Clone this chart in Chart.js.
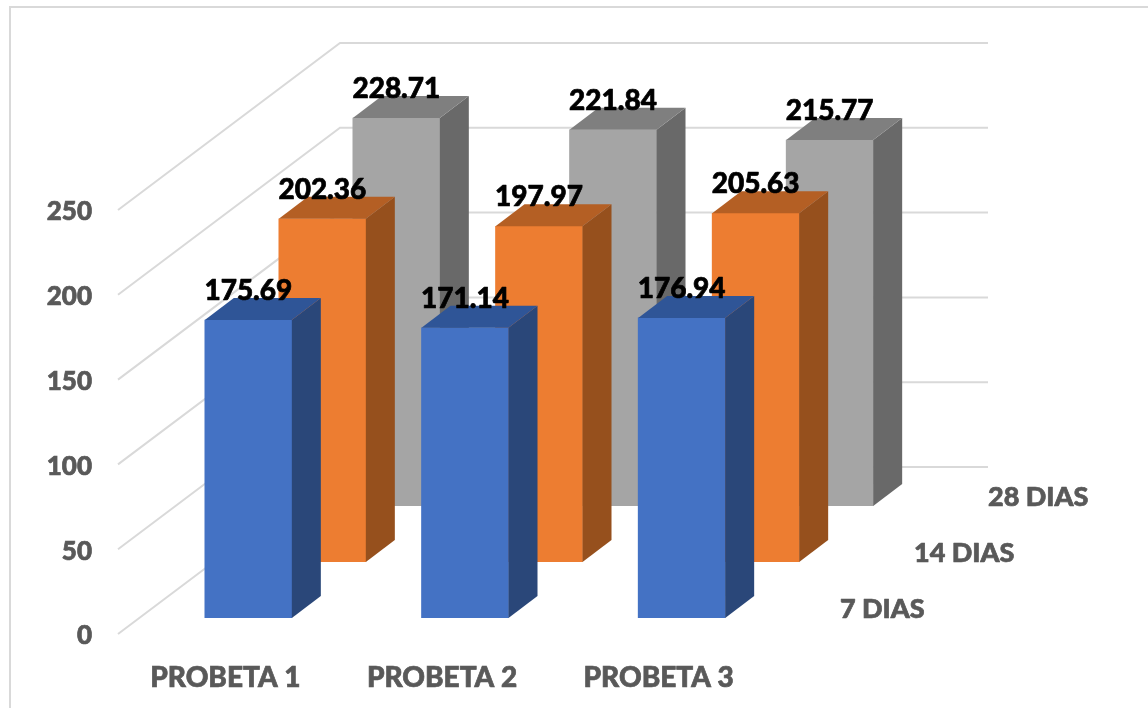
<!DOCTYPE html>
<html>
<head>
<meta charset="utf-8">
<style>
html,body{margin:0;padding:0;background:#fff;overflow:hidden}
canvas{display:block}
</style>
<script src="https://cdn.jsdelivr.net/npm/chart.js@4"></script>
</head>
<body>
<canvas id="c" width="1148" height="708"></canvas>
<script>
const categories = ['PROBETA 1', 'PROBETA 2', 'PROBETA 3'];
const seriesNames = ['7 DIAS', '14 DIAS', '28 DIAS'];
const dias7 = [175.69, 171.14, 176.94];
const dias14 = [202.36, 197.97, 205.63];
const dias28 = [228.71, 221.84, 215.77];
const yTickMax = 250;
const yTickStep = 50;

const FRONT = ['#4472C4', '#ED7D31', '#A5A5A5'];
const SIDE = ['#2A4779', '#96501D', '#696969'];
const TOP = ['#2F5597', '#B45F24', '#7F7F7F'];
const SHIFT_X = [22, 96, 170];
const SHIFT_Y = [-16, -72, -128];
const DEPTH_X = 29, DEPTH_Y = -22;
const WALL_X = 222, WALL_Y = -167, WALL_END = 988;
const GRID = '#D9D9D9';
const TEXT = '#595959';
const FONT_FAMILY = 'Lato, "Open Sans", sans-serif';
const HEAVY = 0.7;

const scene = {
  id: 'scene',
  beforeDraw(chart) {
    const c = chart.ctx;
    c.save();
    c.strokeStyle = GRID; c.lineWidth = 2;
    c.beginPath();
    c.moveTo(10, 708); c.lineTo(10, 7); c.lineTo(1148, 7);
    c.stroke();
    c.restore();
  },
  beforeDatasetsDraw(chart) {
    const c = chart.ctx, y = chart.scales.y, left = chart.chartArea.left;
    c.save();
    c.strokeStyle = GRID; c.lineWidth = 2; c.lineJoin = 'miter';
    y.ticks.forEach(t => {
      const py = y.getPixelForValue(t.value);
      c.beginPath();
      c.moveTo(left, py);
      c.lineTo(left + WALL_X, py + WALL_Y);
      c.lineTo(WALL_END, py + WALL_Y);
      c.stroke();
    });
    c.restore();
  },
  beforeDatasetDraw(chart, args) {
    const c = chart.ctx, i = args.index;
    c.save();
    c.translate(SHIFT_X[i], SHIFT_Y[i]);
  },
  afterDatasetDraw(chart, args) {
    const c = chart.ctx, i = args.index;
    args.meta.data.forEach(el => {
      const p = el.getProps(['x', 'y', 'base', 'width'], true);
      const r = p.x + p.width / 2, l = p.x - p.width / 2;
      c.fillStyle = SIDE[i];
      c.beginPath();
      c.moveTo(r, p.base); c.lineTo(r, p.y);
      c.lineTo(r + DEPTH_X, p.y + DEPTH_Y); c.lineTo(r + DEPTH_X, p.base + DEPTH_Y);
      c.closePath(); c.fill();
      c.fillStyle = TOP[i];
      c.beginPath();
      c.moveTo(l, p.y); c.lineTo(r, p.y);
      c.lineTo(r + DEPTH_X, p.y + DEPTH_Y); c.lineTo(l + DEPTH_X, p.y + DEPTH_Y);
      c.closePath(); c.fill();
    });
    c.restore();
  },
  afterDatasetsDraw(chart) {
    const c = chart.ctx;
    c.save();
    c.textAlign = 'center'; c.textBaseline = 'middle';
    c.fillStyle = '#000'; c.strokeStyle = '#000'; c.lineWidth = HEAVY; c.lineJoin = 'round';
    c.font = '900 28px ' + FONT_FAMILY;
    chart.data.datasets.forEach((ds, i) => {
      chart.getDatasetMeta(i).data.forEach((el, j) => {
        const p = el.getProps(['x', 'y'], true);
        const s = ds.data[j].toFixed(2), tx = p.x + SHIFT_X[i], ty = p.y + SHIFT_Y[i] - 29;
        c.fillText(s, tx, ty);
        c.strokeText(s, tx, ty);
      });
    });
    c.textAlign = 'left';
    c.fillStyle = TEXT; c.strokeStyle = TEXT;
    c.font = '900 27px ' + FONT_FAMILY;
    seriesNames.forEach((n, i) => {
      const tx = 818 + SHIFT_X[i], ty = 625 + SHIFT_Y[i];
      c.fillText(n, tx, ty);
      c.strokeText(n, tx, ty);
    });
    c.restore();
  }
};

new Chart(document.getElementById('c'), {
  type: 'bar',
  data: {
    labels: categories,
    datasets: [
      { label: seriesNames[0], data: dias7, backgroundColor: FRONT[0], order: 1 },
      { label: seriesNames[1], data: dias14, backgroundColor: FRONT[1], order: 2 },
      { label: seriesNames[2], data: dias28, backgroundColor: FRONT[2], order: 3 }
    ]
  },
  options: {
    responsive: false,
    devicePixelRatio: 1,
    animation: false,
    layout: { padding: { left: 0, right: 380, top: 210, bottom: 0 } },
    plugins: { legend: { display: false }, tooltip: { enabled: false } },
    datasets: { bar: { barThickness: 87, grouped: false, borderWidth: 0 } },
    scales: {
      x: {
        grid: { display: false, drawTicks: false },
        border: { display: false },
        ticks: { color: TEXT, padding: 27, maxRotation: 0, autoSkip: false, labelOffset: -1,
                 textStrokeColor: TEXT, textStrokeWidth: HEAVY,
                 font: { family: FONT_FAMILY, size: 28, weight: '900' } },
        afterFit(s) { s.height = 74; }
      },
      y: {
        min: 0, max: yTickMax,
        grid: { display: false, drawTicks: false },
        border: { display: false },
        ticks: { stepSize: yTickStep, color: TEXT, padding: 26, labelOffset: 2,
                 textStrokeColor: TEXT, textStrokeWidth: HEAVY,
                 font: { family: FONT_FAMILY, size: 26, weight: '900' } },
        afterFit(s) { s.width = 118; }
      }
    }
  },
  plugins: [scene]
});
</script>
</body>
</html>
